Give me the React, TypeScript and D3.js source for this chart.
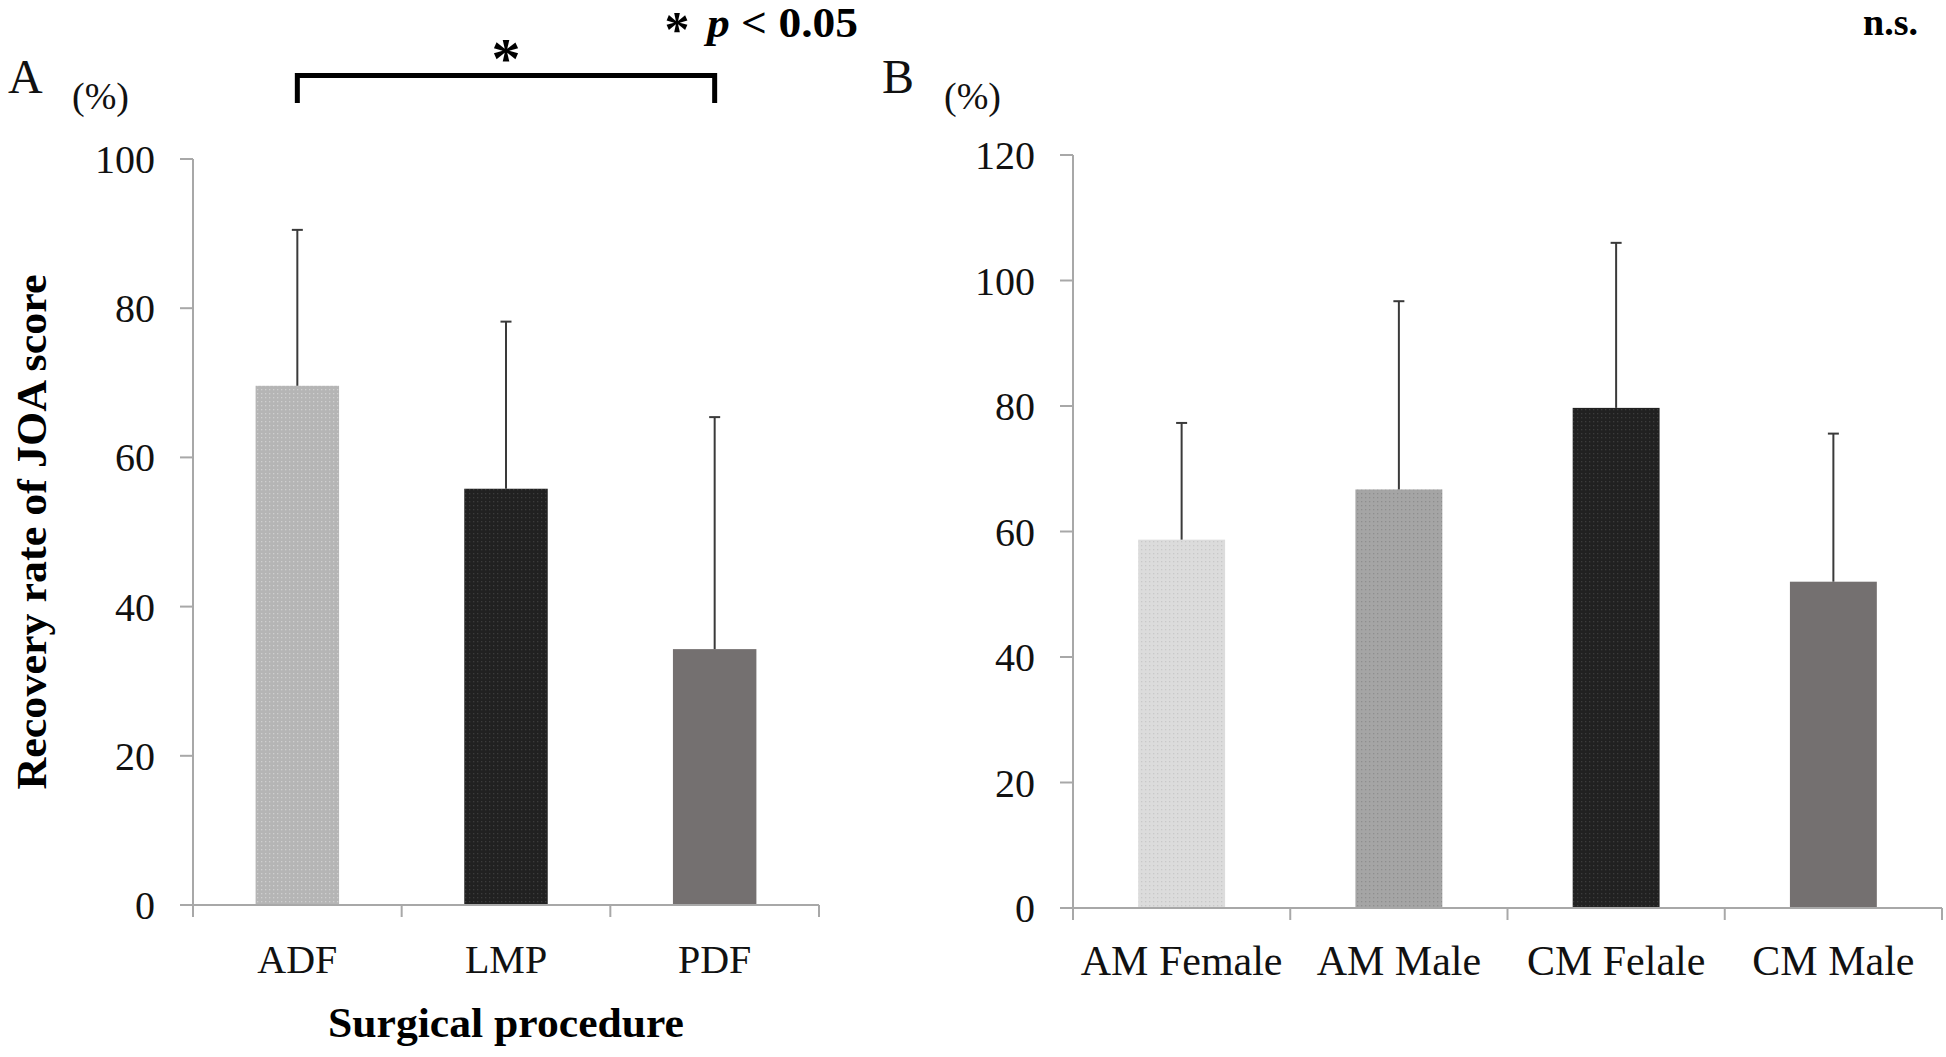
import React from "react";
import * as d3 from "d3";

const procedures = ["ADF", "LMP", "PDF"];
const procedureMeans = [69.6, 55.8, 34.3];
const procedureSD = [20.9, 22.4, 31.1];
const procedureTicks = [0, 20, 40, 60, 80, 100];

const groups = ["AM Female", "AM Male", "CM Felale", "CM Male"];
const groupMeans = [58.7, 66.7, 79.7, 52.0];
const groupSD = [18.6, 30.0, 26.3, 23.6];
const groupTicks = [0, 20, 40, 60, 80, 100, 120];

const procedureFills = ["url(#patLight)", "url(#patDark)", "#747070"];
const groupFills = ["url(#patPale)", "url(#patMid)", "url(#patDark)", "#747070"];

const SERIF = "'Liberation Serif', 'Times New Roman', serif";
const AXIS = "#a8a8a8";
const ERR = "#3a3a3a";

type PanelProps = {
  x0: number; x1: number; y0: number; yTop: number; max: number;
  cats: string[]; means: number[]; sds: number[]; fills: string[]; ticks: number[];
  labelSize: number; labelY: number;
};

function Panel(p: PanelProps) {
  const x = d3.scaleBand<string>().domain(p.cats).range([p.x0, p.x1]).paddingInner(0.6).paddingOuter(0.3);
  const y = d3.scaleLinear().domain([0, p.max]).range([p.y0, p.yTop]);
  const step = x.step();
  const bounds = d3.range(p.cats.length + 1).map((i) => p.x0 + i * step);
  return (
    <g>
      {p.cats.map((c, i) => (
        <rect key={c} x={x(c)} y={y(p.means[i])} width={x.bandwidth()} height={y(0) - y(p.means[i])} fill={p.fills[i]} />
      ))}
      {p.cats.map((c, i) => {
        const cx = (x(c) as number) + x.bandwidth() / 2;
        const top = y(p.means[i] + p.sds[i]);
        return (
          <g key={c + "e"} stroke={ERR} strokeWidth={2}>
            <line x1={cx} x2={cx} y1={y(p.means[i])} y2={top} />
            <line x1={cx - 5.5} x2={cx + 5.5} y1={top} y2={top} />
          </g>
        );
      })}
      <line x1={p.x0} x2={p.x0} y1={y(0)} y2={y(p.max)} stroke={AXIS} strokeWidth={2} />
      <line x1={p.x0 - 13} x2={p.x1} y1={y(0)} y2={y(0)} stroke={AXIS} strokeWidth={2} />
      {p.ticks.map((t) => (
        <g key={t}>
          <line x1={p.x0 - 13} x2={p.x0} y1={y(t)} y2={y(t)} stroke={AXIS} strokeWidth={2} />
          <text x={p.x0 - 38} y={y(t)} dy="0.35em" textAnchor="end" fontFamily={SERIF} fontSize={40} fill="#111">{t}</text>
        </g>
      ))}
      {bounds.map((b, i) => (
        <line key={i} x1={b} x2={b} y1={y(0)} y2={y(0) + 12} stroke={AXIS} strokeWidth={2} />
      ))}
      {p.cats.map((c) => (
        <text key={c + "l"} x={(x(c) as number) + x.bandwidth() / 2} y={p.labelY} textAnchor="middle" fontFamily={SERIF} fontSize={p.labelSize} fill="#111">{c}</text>
      ))}
    </g>
  );
}

function Pattern({ id, base, dot }: { id: string; base: string; dot: string }) {
  return (
    <pattern id={id} patternUnits="userSpaceOnUse" width={4} height={4}>
      <rect width={4} height={4} fill={base} />
      <rect x={1} y={1} width={1.3} height={1.3} fill={dot} />
    </pattern>
  );
}

export default function App() {
  const aX0 = 193, aX1 = 819, aY0 = 905, aTop = 159;
  const bX0 = 1073, bX1 = 1942, bY0 = 908, bTop = 155;
  const xa = d3.scaleBand<string>().domain(procedures).range([aX0, aX1]);
  const cADF = (xa("ADF") as number) + xa.bandwidth() / 2;
  const cPDF = (xa("PDF") as number) + xa.bandwidth() / 2;
  return (
    <>
      <style>{`body{margin:0;background:#fff}`}</style>
      <svg width={1946} height={1057} style={{ display: "block" }}>
        <defs>
          <Pattern id="patLight" base="#b5b5b5" dot="#cfcfcf" />
          <Pattern id="patDark" base="#212121" dot="#3c3c3c" />
          <Pattern id="patPale" base="#dcdcdc" dot="#c8c8c8" />
          <Pattern id="patMid" base="#a5a5a5" dot="#8e8e8e" />
        </defs>
        <rect width={1946} height={1057} fill="#fff" />
        <Panel x0={aX0} x1={aX1} y0={aY0} yTop={aTop} max={100} cats={procedures} means={procedureMeans} sds={procedureSD}
          fills={procedureFills} ticks={procedureTicks} labelSize={40} labelY={973} />
        <Panel x0={bX0} x1={bX1} y0={bY0} yTop={bTop} max={120} cats={groups} means={groupMeans} sds={groupSD}
          fills={groupFills} ticks={groupTicks} labelSize={42} labelY={975} />

        <text x={8} y={93} fontFamily={SERIF} fontSize={48} fill="#111">A</text>
        <text x={72} y={109} fontFamily={SERIF} fontSize={38} fill="#111">(%)</text>
        <text x={882} y={93} fontFamily={SERIF} fontSize={48} fill="#111">B</text>
        <text x={944} y={109} fontFamily={SERIF} fontSize={38} fill="#111">(%)</text>

        <path d={`M${cADF},103V75.5H${cPDF}V103`} fill="none" stroke="#000" strokeWidth={5} />
        <text x={(cADF + cPDF) / 2} y={78} textAnchor="middle" fontFamily={SERIF} fontWeight="bold" fontSize={58} fill="#000">*</text>

        <text x={677} y={46} textAnchor="middle" fontFamily={SERIF} fontWeight="bold" fontSize={50} fill="#000">*</text>
        <text x={707} y={37} fontFamily={SERIF} fontWeight="bold" fontSize={42} fill="#000" textLength={151} lengthAdjust="spacingAndGlyphs">
          <tspan fontStyle="italic">p</tspan><tspan> &lt; 0.05</tspan>
        </text>
        <text x={1863} y={35} fontFamily={SERIF} fontWeight="bold" fontSize={38} fill="#000">n.s.</text>

        <text transform={`translate(46,${(aY0 + aTop) / 2}) rotate(-90)`} textAnchor="middle" fontFamily={SERIF} fontWeight="bold" fontSize={43}
          fill="#000" textLength={515} lengthAdjust="spacingAndGlyphs">Recovery rate of JOA score</text>
        <text x={(aX0 + aX1) / 2} y={1037} textAnchor="middle" fontFamily={SERIF} fontWeight="bold" fontSize={43} fill="#000"
          textLength={356} lengthAdjust="spacingAndGlyphs">Surgical procedure</text>
      </svg>
    </>
  );
}
